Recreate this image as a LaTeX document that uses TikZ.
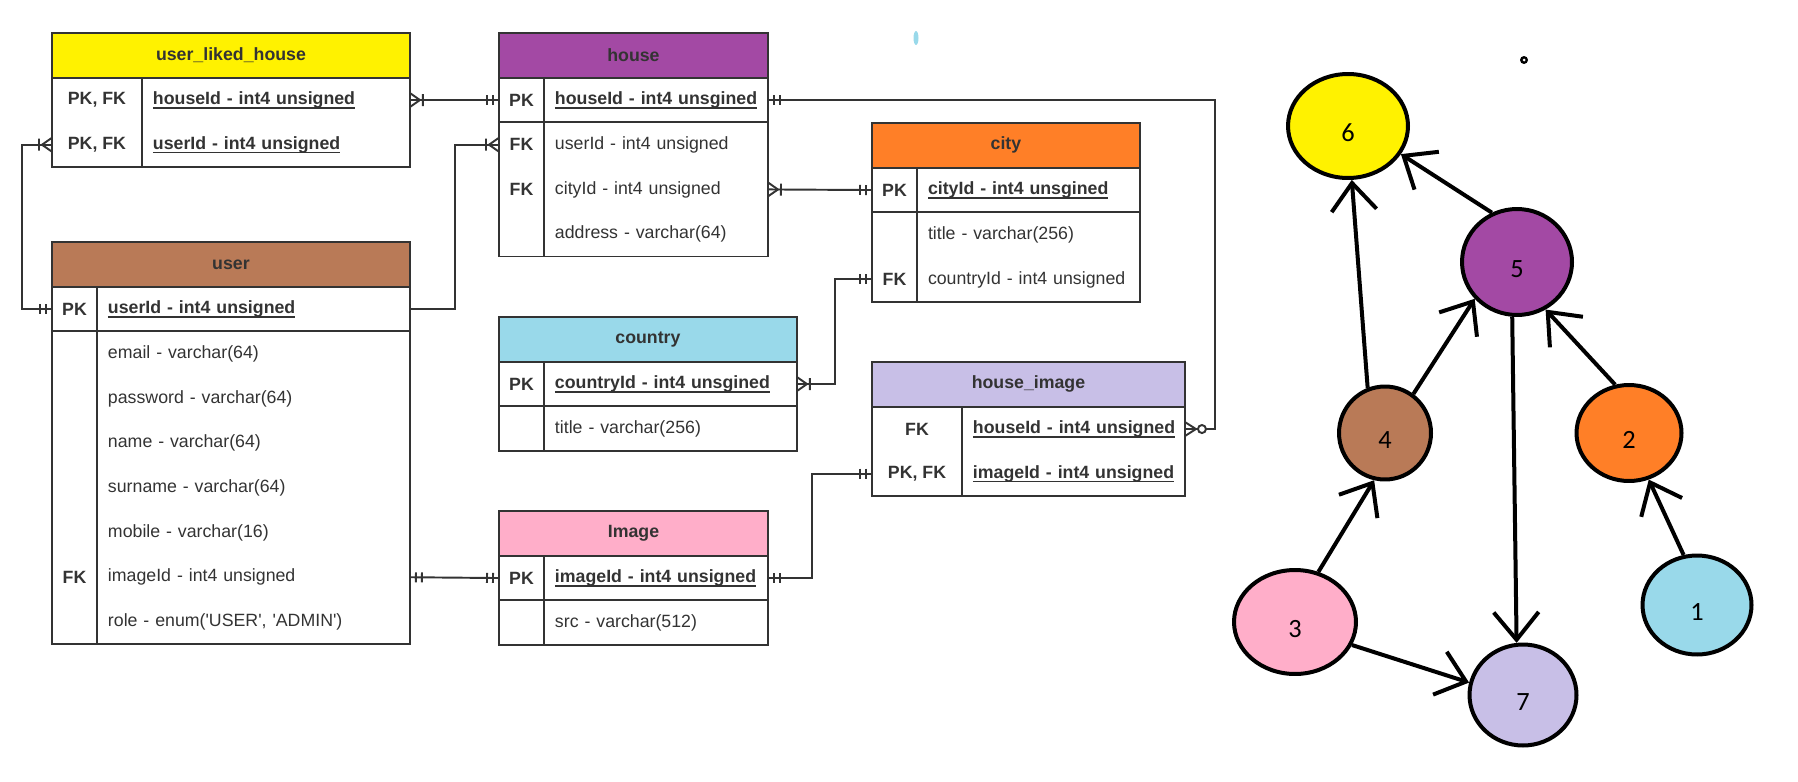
\documentclass[tikz,border=0pt]{standalone}
\usepackage{fontspec}
\setmainfont{Liberation Sans}
\newfontfamily\graphfont{Carlito}
\usetikzlibrary{positioning,shapes.geometric,arrows.meta,decorations.markings}
\definecolor{erLine}{HTML}{333333}
\definecolor{erText}{HTML}{333333}
\definecolor{cYellow}{HTML}{FFF200}
\definecolor{cBrown}{HTML}{B97A57}
\definecolor{cPurple}{HTML}{A349A4}
\definecolor{cOrange}{HTML}{FF7F27}
\definecolor{cBlue}{HTML}{99D9EA}
\definecolor{cLav}{HTML}{C8BFE7}
\definecolor{cPink}{HTML}{FFAEC9}
\newcommand{\erfont}{\fontsize{10.1}{12}\selectfont}
\newsavebox{\pkbox}
\newcommand{\pk}[1]{\sbox{\pkbox}{\bfseries #1}\rlap{\rule[-2.4pt]{\wd\pkbox}{0.8pt}}\usebox{\pkbox}}
\begin{document}
\begin{tikzpicture}[x=0.02cm, y=-0.02cm, font=\erfont,
	tabline/.style={draw=erLine, line width=1.1pt},
	tabhead/.style={tabline, minimum width=#1, minimum height=0.894cm, inner sep=0pt, outer sep=0pt, anchor=north west, font=\erfont\bfseries, text=erText},
	keycell/.style={minimum width=#1, minimum height=0.894cm, inner sep=0pt, outer sep=0pt, anchor=north west, font=\erfont\bfseries, text=erText},
	fieldcell/.style={text width=#1, minimum height=0.894cm, inner xsep=0.22cm, inner ysep=0pt, outer sep=0pt, align=left, text=erText},
	one/.style={postaction={decorate, decoration={markings, mark=at position #1 with {\draw[tabline, xscale={2*#1-1}] (-6,-5)--(-6,5) (-12,-5)--(-12,5);}}}},
	many/.style={postaction={decorate, decoration={markings, mark=at position #1 with {\draw[tabline, xscale={2*#1-1}] (0,-7)--(-10,0)--(0,7) (-13,-6)--(-13,6);}}}},
	zmany/.style={postaction={decorate, decoration={markings, mark=at position #1 with {\draw[tabline, xscale={2*#1-1}] (0,-7)--(-11,0)--(0,7); \draw[tabline, fill=white, xscale={2*#1-1}] (-17,0) circle[radius=4];}}}},
	vert/.style={ellipse, draw, line width=0.08cm, inner sep=0pt, text height=0.62cm, text depth=0pt, font=\fontsize{15}{18}\selectfont\graphfont},
	dep/.style={line width=0.08cm, -{Straight Barb[length=0.55cm,width=0.9cm]}}
	]
	\useasboundingbox (0,0) rectangle (1798,781);
	
	\node[tabhead=7.16cm, fill=cYellow] (ulh) at (52,33) {user\_liked\_house};
	\foreach \k/\f [count=\i] in {{PK, FK}/{\pk{houseId - int4 unsigned}}, {PK, FK}/{\pk{userId - int4 unsigned}}}{
		\node[keycell=1.80cm] (ulh-k\i) at ([shift={(0,{(\i-1)*44.7})}]ulh.south west) {\k};
		\node[fieldcell=4.92cm, right=0pt of ulh-k\i] (ulh-f\i) {\f};
	}
	\draw[tabline] (ulh.south west) rectangle (ulh-f2.south east);
	\draw[tabline] (ulh-k1.north east) -- (ulh-k2.south east);
	
	\node[tabhead=7.16cm, fill=cBrown] (user) at (52,242) {user};
	\foreach \k/\f [count=\i] in {PK/{\pk{userId - int4 unsigned}}, {}/{email - varchar(64)}, {}/{password - varchar(64)}, {}/{name - varchar(64)}, {}/{surname - varchar(64)}, {}/{mobile - varchar(16)}, FK/{imageId - int4 unsigned}, {}/{role - enum(\textquotesingle USER\textquotesingle, \textquotesingle ADMIN\textquotesingle)}}{
		\node[keycell=0.90cm] (user-k\i) at ([shift={(0,{(\i-1)*44.7})}]user.south west) {\k};
		\node[fieldcell=5.82cm, right=0pt of user-k\i] (user-f\i) {\f};
	}
	\draw[tabline] (user.south west) rectangle (user-f8.south east);
	\draw[tabline] (user-k1.north east) -- (user-k8.south east);
	\draw[tabline] (user-k1.south west) -- (user-f1.south east);
	
	\node[tabhead=5.38cm, fill=cPurple] (house) at (499,33) {house};
	\foreach \k/\f [count=\i] in {PK/{\pk{houseId - int4 unsgined}}, FK/{userId - int4 unsigned}, FK/{cityId - int4 unsigned}, {}/{address - varchar(64)}}{
		\node[keycell=0.90cm] (house-k\i) at ([shift={(0,{(\i-1)*44.7})}]house.south west) {\k};
		\node[fieldcell=4.04cm, right=0pt of house-k\i] (house-f\i) {\f};
	}
	\draw[tabline] (house.south west) rectangle (house-f4.south east);
	\draw[tabline] (house-k1.north east) -- (house-k4.south east);
	\draw[tabline] (house-k1.south west) -- (house-f1.south east);
	
	\node[tabhead=5.36cm, fill=cOrange] (city) at (872,123) {city};
	\foreach \k/\f [count=\i] in {PK/{\pk{cityId - int4 unsgined}}, {}/{title - varchar(256)}, FK/{countryId - int4 unsigned}}{
		\node[keycell=0.90cm] (city-k\i) at ([shift={(0,{(\i-1)*44.7})}]city.south west) {\k};
		\node[fieldcell=4.02cm, right=0pt of city-k\i] (city-f\i) {\f};
	}
	\draw[tabline] (city.south west) rectangle (city-f3.south east);
	\draw[tabline] (city-k1.north east) -- (city-k3.south east);
	\draw[tabline] (city-k1.south west) -- (city-f1.south east);
	
	\node[tabhead=5.96cm, fill=cBlue] (country) at (499,317) {country};
	\foreach \k/\f [count=\i] in {PK/{\pk{countryId - int4 unsgined}}, {}/{title - varchar(256)}}{
		\node[keycell=0.90cm] (country-k\i) at ([shift={(0,{(\i-1)*44.7})}]country.south west) {\k};
		\node[fieldcell=4.62cm, right=0pt of country-k\i] (country-f\i) {\f};
	}
	\draw[tabline] (country.south west) rectangle (country-f2.south east);
	\draw[tabline] (country-k1.north east) -- (country-k2.south east);
	\draw[tabline] (country-k1.south west) -- (country-f1.south east);
	
	\node[tabhead=5.38cm, fill=cPink] (img) at (499,511) {Image};
	\foreach \k/\f [count=\i] in {PK/{\pk{imageId - int4 unsigned}}, {}/{src - varchar(512)}}{
		\node[keycell=0.90cm] (img-k\i) at ([shift={(0,{(\i-1)*44.7})}]img.south west) {\k};
		\node[fieldcell=4.04cm, right=0pt of img-k\i] (img-f\i) {\f};
	}
	\draw[tabline] (img.south west) rectangle (img-f2.south east);
	\draw[tabline] (img-k1.north east) -- (img-k2.south east);
	\draw[tabline] (img-k1.south west) -- (img-f1.south east);
	
	\node[tabhead=6.26cm, fill=cLav] (hi) at (872,362) {house\_image};
	\foreach \k/\f [count=\i] in {FK/{\pk{houseId - int4 unsigned}}, {PK, FK}/{\pk{imageId - int4 unsigned}}}{
		\node[keycell=1.80cm] (hi-k\i) at ([shift={(0,{(\i-1)*44.7})}]hi.south west) {\k};
		\node[fieldcell=4.02cm, right=0pt of hi-k\i] (hi-f\i) {\f};
	}
	\draw[tabline] (hi.south west) rectangle (hi-f2.south east);
	\draw[tabline] (hi-k1.north east) -- (hi-k2.south east);
	
	\draw[tabline, many=0, one=1] (ulh-f1.east) -- (house-k1.west);
	\draw[tabline, many=0, one=1] (ulh-k2.west) -- ++(-30,0) |- (user-k1.west);
	\draw[tabline, many=1] (user-f1.east) -- ++(45,0) |- (house-k2.west);
	\draw[tabline, many=0, one=1] (house-f3.east) -- (city-k1.west);
	\draw[tabline, one=0, zmany=1] (house-f1.east) -- ++(447,0) |- (hi-f1.east);
	\draw[tabline, many=0, one=1] (country-f1.east) -- ++(38,0) |- (city-k3.west);
	\draw[tabline, one=0, one=1] (user-f7.east) -- (img-k1.west);
	\draw[tabline, one=0, one=1] (img-f1.east) -- ++(44,0) |- (hi-k2.west);
	
	\fill[cBlue] (916,38) ellipse[x radius=2.5, y radius=7];
	\fill (1524,60) circle[radius=4];
	\fill[white] (1524,60) circle[radius=1.5];
	
	\foreach \n/\x/\y/\w/\h/\c in {6/1348/126/2.40/2.08/cYellow, 5/1517/262/2.20/2.12/cPurple, 4/1385/433/1.84/1.86/cBrown, 2/1629/433/2.10/1.92/cOrange, 3/1295/622/2.44/2.08/cPink, 1/1697/605/2.18/1.98/cBlue, 7/1523/695/2.14/2.02/cLav}
		\node[vert, fill=\c, minimum width=\w cm, minimum height=\h cm] (n\n) at (\x,\y) {\n};
	\foreach \a/\s/\b/\e in {4/111/6/-86, 5/117/6/-28, 4/54/5/221, 2/106/5/-59, 5/-95/7/97, 3/65/4/-103, 3/-22/7/167, 1/105/2/-67}
		\draw[dep] (n\a.\s) -- (n\b.\e);
\end{tikzpicture}
\end{document}
